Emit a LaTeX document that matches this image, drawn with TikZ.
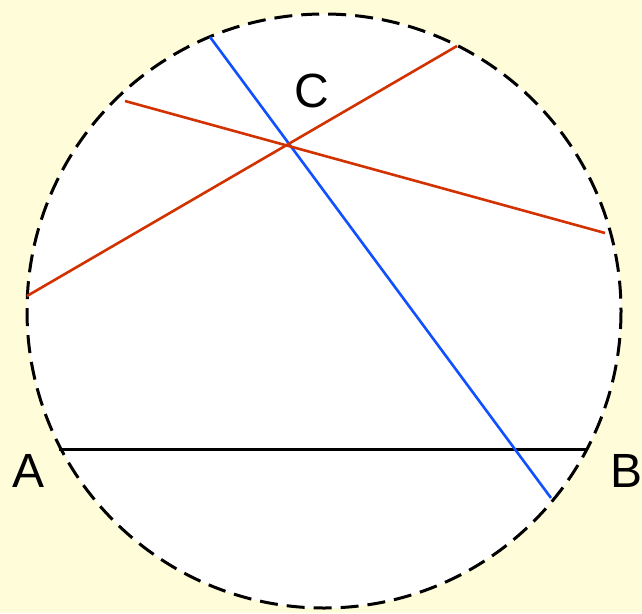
\documentclass[tikz,border=0pt]{standalone}
\usepackage{fontspec}
\setmainfont{Liberation Sans}
\definecolor{bgyellow}{HTML}{FFFCD9}
\definecolor{chordred}{HTML}{D23200}
\definecolor{chordblue}{HTML}{1150FF}
\begin{document}
\begin{tikzpicture}[x=1pt,y=-1pt,
  lbl/.style={font=\fontsize{48}{48}\selectfont, inner sep=0pt, text=black},
  rim/.style={draw=black, line width=3pt, dash pattern=on 18pt off 9pt, fill=white},
  chord/.style={line width=2.6pt}]
\fill[bgyellow] (0,0) rectangle (642,613);
\useasboundingbox (0,0) rectangle (642,613);
\coordinate (O) at (324,311);
\draw[rim] (O) circle[radius=297];
\coordinate (a) at (59,449);
\coordinate (b) at (588,449);
\coordinate (p1) at (210,37);
\coordinate (p2) at (551,498);
\coordinate (q1) at (27,296);
\coordinate (q2) at (457,46);
\coordinate (r1) at (125,101);
\coordinate (r2) at (605,233);
\draw[chord, draw=black, line width=3pt] (a) -- (b);
\draw[chord, draw=chordblue] (p1) -- (p2);
\draw[chord, draw=chordred] (q1) -- (q2);
\draw[chord, draw=chordred] (r1) -- (r2);
\node[lbl] (A) at (29,471) {A};
\node[lbl] (B) at (626,471) {B};
\node[lbl] (C) at (312,91) {C};
\end{tikzpicture}
\end{document}
